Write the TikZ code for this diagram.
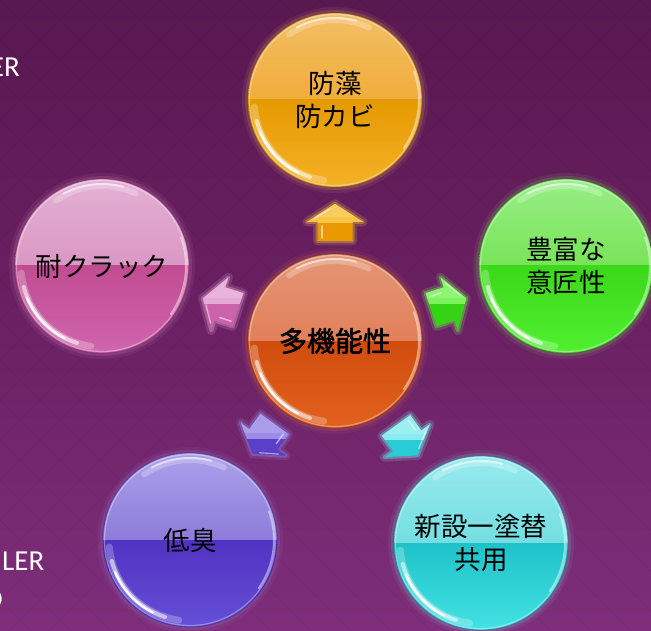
\documentclass[tikz,border=0pt]{standalone}
\usepackage{fontspec}
\newfontfamily\jp{Noto Sans CJK JP}[AutoFakeBold=2]
\newfontfamily\lat{Carlito}
\usetikzlibrary{calc}
% background
\definecolor{bgT}{HTML}{581850}
\definecolor{bgM}{HTML}{6A2062}
\definecolor{bgB}{HTML}{7E2E7A}
% top (yellow-orange)
\definecolor{tA}{HTML}{F3BE66}\definecolor{tB}{HTML}{F0AD3A}\definecolor{tC}{HTML}{E59A00}\definecolor{tD}{HTML}{F5B228}
\definecolor{tG}{HTML}{FFD060}\definecolor{tL}{HTML}{F8C445}\definecolor{tK}{HTML}{E89A00}
% centre (orange-red)
\definecolor{cA}{HTML}{E49676}\definecolor{cB}{HTML}{E2805A}\definecolor{cC}{HTML}{D04C0E}\definecolor{cD}{HTML}{E2621E}
\definecolor{cG}{HTML}{F08040}
% green
\definecolor{gA}{HTML}{98EE88}\definecolor{gB}{HTML}{78E458}\definecolor{gC}{HTML}{3CD81A}\definecolor{gD}{HTML}{50F030}
\definecolor{gG}{HTML}{80FF60}\definecolor{gL}{HTML}{7CF25C}\definecolor{gK}{HTML}{34D414}
% pink
\definecolor{pA}{HTML}{E4B0D4}\definecolor{pB}{HTML}{DA98C4}\definecolor{pC}{HTML}{C24C92}\definecolor{pD}{HTML}{D066AE}
\definecolor{pG}{HTML}{E8A0D8}\definecolor{pL}{HTML}{E6A8D6}\definecolor{pK}{HTML}{CC62AC}
% purple
\definecolor{vA}{HTML}{ACA0EA}\definecolor{vB}{HTML}{8C7CDA}\definecolor{vC}{HTML}{5232C2}\definecolor{vD}{HTML}{6450D6}
\definecolor{vG}{HTML}{A090F0}\definecolor{vL}{HTML}{9C8CE6}\definecolor{vK}{HTML}{5A40C8}
% cyan
\definecolor{qA}{HTML}{98EAEE}\definecolor{qB}{HTML}{74DEE2}\definecolor{qC}{HTML}{1EC2C8}\definecolor{qD}{HTML}{44E2E4}
\definecolor{qG}{HTML}{80F0F0}\definecolor{qL}{HTML}{8AECF0}\definecolor{qK}{HTML}{28CCD4}

\tikzset{
  bubbletext/.style={circle, inner sep=0pt, minimum size=174pt, align=center,
    font=\jp\fontsize{26.5}{33}\selectfont, text=black},
  sidetext/.style={inner sep=0pt, text=white, font=\lat\fontsize{29}{32}\selectfont},
  arrowshape/.style={insert path={(-18,-17.5) -- (1,-17.5) -- (1,-28) -- (19,0) -- (1,28) -- (1,17.5) -- (-18,17.5) -- cycle}},
}

% glossy bubble: #1 name, #2 x, #3 y, #4 colour prefix, #5 text
\newcommand\bubble[5]{%
  \begin{scope}[shift={(#2,#3)}]
    \fill[#4G, opacity=0.08] (0,0) circle (93);
    \fill[#4G, opacity=0.14] (0,0) circle (90);
    \begin{scope}
      \clip (0,0) circle (87);
      \shade[top color=#4A, bottom color=#4B] (-88,88) rectangle (88,0);
      \shade[top color=#4C, bottom color=#4D] (-88,0) rectangle (88,-88);
    \end{scope}
    \draw[#4C!60!black, opacity=0.45, line width=0.8] (0,0) circle (87);
    \draw[white, opacity=0.35, line width=1.2] (0,0) circle (85.5);
    % top gloss band
    \draw[white, opacity=0.25, line width=6, line cap=round] (65:80) arc[start angle=65, end angle=125, radius=80];
    \draw[white, opacity=0.55, line width=2, line cap=round] (75:82) arc[start angle=75, end angle=118, radius=82];
    % right rim
    \draw[white, opacity=0.45, line width=2, line cap=round] (-35:84) arc[start angle=-35, end angle=20, radius=84];
    % lower-left rim highlight
    \draw[white, opacity=0.25, line width=7, line cap=round] (185:81) arc[start angle=185, end angle=262, radius=81];
    \draw[white, opacity=0.55, line width=4, line cap=round] (195:81) arc[start angle=195, end angle=252, radius=81];
    \draw[white, opacity=0.95, line width=2.2, line cap=round] (203:81.5) arc[start angle=203, end angle=243, radius=81.5];
  \end{scope}
  \node[bubbletext] (#1) at (#2,#3) {#5};
}

% block arrow between two bubbles: #1 from, #2 to, #3 colour prefix
\newcommand\blockarrow[3]{%
  \pgfmathanglebetweenpoints{\pgfpointanchor{#1}{center}}{\pgfpointanchor{#2}{center}}%
  \edef\arrang{\pgfmathresult}%
  \begin{scope}[shift={($(#1)!0.49!(#2)$)}, rotate=\arrang]
    \draw[#3L, opacity=0.18, line width=9, line join=round, arrowshape];
    \draw[#3L, opacity=0.35, line width=4, line join=round, arrowshape];
    \begin{scope}
      \clip[arrowshape];
      \fill[#3K] (-40,-40) rectangle (40,40);
      \begin{scope}[rotate=-\arrang]
        \fill[#3L] (-40,0) rectangle (40,40);
        \fill[white, opacity=0.15] (-40,6) rectangle (40,40);
      \end{scope}
    \end{scope}
    \draw[white, opacity=0.55, line width=1.4, line cap=round] (-15,13) -- (-3,13);
    \draw[white, opacity=0.5, line width=1.2, line cap=round] (4,21) -- (14,5);
  \end{scope}
}

\begin{document}
\begin{tikzpicture}[x=1pt,y=1pt]
  \useasboundingbox (0,0) rectangle (651,-631);
  \clip (0,0) rectangle (651,-631);
  % background
  \shade[top color=bgT, bottom color=bgB, middle color=bgM] (0,0) rectangle (651,-631);
  \foreach \i in {-640,-600,...,680} {
    \draw[black, opacity=0.035, line width=0.8] (\i,0) -- ++(631,-631);
    \draw[black, opacity=0.035, line width=0.8] (\i,0) -- ++(-631,-631);
  }
  % partial side texts
  \node[sidetext, anchor=base east] (er) at (20,-77) {ER};
  \node[sidetext, anchor=base west] (ler) at (2,-570) {LER};
  \node[sidetext, anchor=base east] (dd) at (3,-608) {D};

  % bubbles
  \bubble{topb}{335}{-100}{t}{防藻\\防カビ}
  \bubble{green}{566}{-266}{g}{豊富な\\意匠性}
  \bubble{pink}{102}{-266}{p}{耐クラック}
  \bubble{purple}{190}{-540}{v}{低臭}
  \bubble{cyan}{481}{-543}{q}{新設一塗替\\共用}
  \bubble{centre}{335}{-341}{c}{\fontsize{28}{33}\selectfont\bfseries\raisebox{-5pt}{多機能性}}

  % arrows
  \blockarrow{centre}{topb}{t}
  \blockarrow{centre}{green}{g}
  \blockarrow{centre}{pink}{p}
  \blockarrow{centre}{purple}{v}
  \blockarrow{centre}{cyan}{q}
\end{tikzpicture}
\end{document}
